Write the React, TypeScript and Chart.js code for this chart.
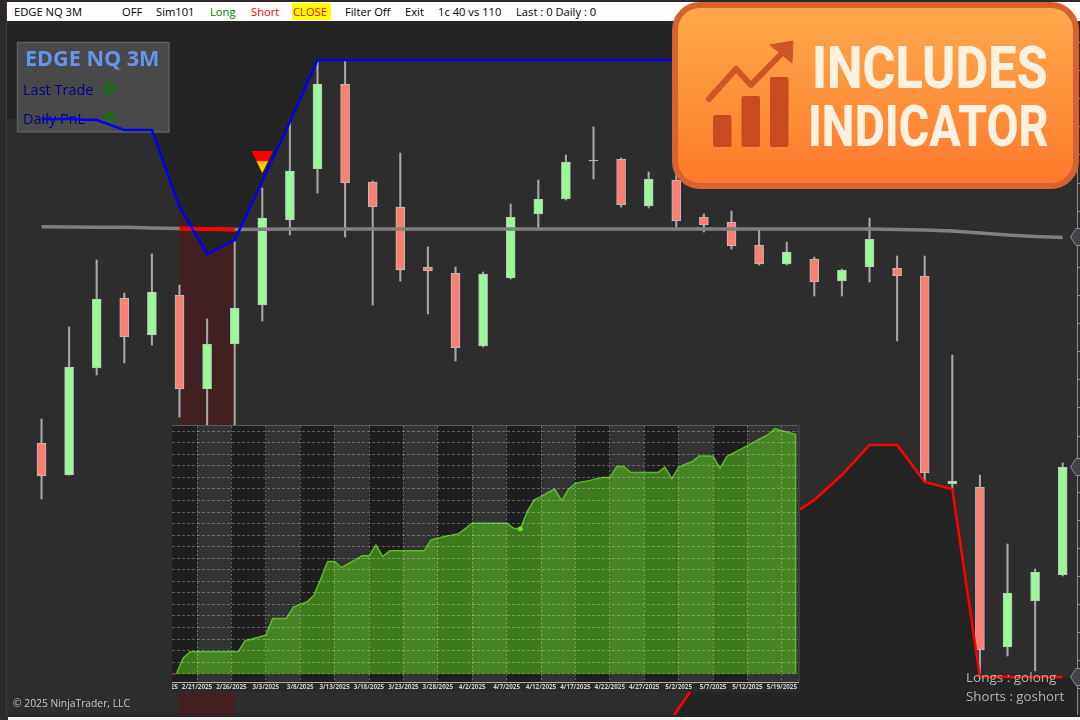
import React, { useEffect, useRef } from "react";
import { Chart, registerables } from "chart.js";

Chart.register(...registerables);

/* ---------- main chart data (candle index / price units) ---------- */
const OPEN = [277,245,352,422,385,425,331,376,415,500,551,636,538,513,453,447,374,442,506,521,559,561,514,540,503,498,475,456,461,439,453,452,444,236,233,73,119,145];
const CLOSE = [244,353,421,383,428,331,376,412,502,549,636,537,513,450,449,372,446,503,521,558,560,515,541,499,495,474,456,468,438,450,481,444,247,239,70,127,148,253];
const HIGH = [301,393,460,427,466,435,401,481,532,598,660,660,539,567,473,453,448,516,540,565,593,562,548,570,506,509,491,478,463,451,502,464,464,365,245,176,151,257];
const LOW = [221,245,345,357,375,303,290,290,399,485,527,483,415,439,406,359,373,441,491,520,541,513,512,492,488,471,455,455,424,424,438,379,238,231,42,64,49,144];
const AVERAGE = [493.3,493,492.8,492.7,492,491.5,491,490.5,490.8,491,491,491,491,491,491,491,491,491,491,491,491,491,491,491,491,491,491,491,491,491,491,490.5,490,489,487,485,483.5,482.5];
const UPPER_BAND = [601,601,600,590,590,513,466,480,539,598,660,660,660,660,660,660,660,660,660,660,660,660,660,660,660,660,660,660,660,660,660,660,660,660,660,660,660,660];
const LOWER_BAND_START = 22;
const LOWER_BAND = [-40,8,48,108,160,202,220,245,275,275,238,231,43,43,43,43];
const SIGNAL_ZONE = { center: 6, bottom: 0, top: 700 };
const SIGNAL_LINE = [{ x: 5, y: 491.5 }, { x: 6, y: 491 }, { x: 7, y: 490.5 }];
const SHORT_MARKER = { index: 8, base: 569, split: 558.7, apex: 547 };
const PRICE_MARKERS = [483, 253, 43];
const PRICE_TICK_START = 3;
const PRICE_TICK_STEP = 28.1;

/* ---------- equity inset data ---------- */
const EQUITY = [0,1.36,1.9,1.9,1.9,1.9,1.9,1.9,1.9,1.9,2.85,3,3.17,3.34,4.79,4.79,4.79,5.77,6,6.23,6.78,8.22,9.72,9.72,9.2,9.52,9.86,10.21,10.21,11.13,10.15,10.64,10.64,10.64,10.64,10.64,10.64,11.59,11.74,11.88,12,12.11,12.57,13.03,13.03,13.03,13.03,13.03,13.03,12.6,12.54,14.04,15.05,15.34,15.69,15.97,14.99,15.97,16.49,16.61,16.72,16.87,16.98,16.98,17.94,17.94,17.45,17.42,17.42,17.42,17.42,17.88,16.9,17.88,18.14,18.37,18.86,18.86,18.83,17.79,18.8,19.12,19.43,19.75,20.07,20.39,20.7,21.22,21.05,20.88,20.7];
const DATE_TICKS = [-2,3,8,13,18,23,28,33,38,43,48,53,58,63,68,73,78,83,88];
const DATE_LABELS = ["2/16/2025","2/21/2025","2/26/2025","3/3/2025","3/8/2025","3/13/2025","3/18/2025","3/23/2025","3/28/2025","4/2/2025","4/7/2025","4/12/2025","4/17/2025","4/22/2025","4/27/2025","5/2/2025","5/7/2025","5/12/2025","5/19/2025"];
const EQUITY_DOT = 50;
const EQUITY_LEVELS = [0,1,2,3,4,5,6,7,8,9,10,11,12,13,14,15,16,17,18,19,20,21];

/* ---------- texts ---------- */
const TOOLBAR = [
  { text: "EDGE NQ 3M", left: 14, color: "#000" },
  { text: "OFF", left: 122, color: "#000" },
  { text: "Sim101", left: 156, color: "#000" },
  { text: "Long", left: 210, color: "#008000" },
  { text: "Short", left: 251, color: "#ff0000" },
  { text: "CLOSE", left: 293, color: "#ff0000" },
  { text: "Filter Off", left: 345, color: "#000" },
  { text: "Exit", left: 405, color: "#000" },
  { text: "1c 40 vs 110", left: 438, color: "#000" },
  { text: "Last : 0 Daily : 0", left: 516, color: "#000" },
];

const GREEN = "#98fb98";
const RED = "#fa8072";
const DARK = "#242424";
const LIGHT = "#2d2d2d";
const X_MIN = -1.5036;
const X_MAX = 37.518;

const linePts = (arr: number[], start = 0) => arr.map((y, i) => ({ x: i + start, y }));

function useChart(ref: React.RefObject<HTMLCanvasElement | null>, make: (c: HTMLCanvasElement) => Chart) {
  useEffect(() => {
    if (!ref.current) return;
    const chart = make(ref.current);
    return () => chart.destroy();
  }, []);
}

const FILL_DATASET_INDEX = 1;

const mainPlugin = {
  id: "mainDecor",
  beforeDraw(chart: any) {
    const { ctx, width, height } = chart;
    ctx.save();
    ctx.fillStyle = LIGHT;
    ctx.fillRect(0, 0, width, height);
    ctx.restore();
  },
  afterDatasetDraw(chart: any, args: any) {
    if (args.index !== FILL_DATASET_INDEX + 1) return;
    // information panel sits over the shaded bands, under the band lines
    const ctx = chart.ctx;
    ctx.save();
    ctx.fillStyle = "rgba(110,110,110,0.5)";
    ctx.fillRect(17, 42, 152, 90);
    ctx.strokeStyle = "#5e5e5e";
    ctx.lineWidth = 1.5;
    ctx.strokeRect(17.5, 42.5, 151.5, 89.5);
    ctx.textBaseline = "alphabetic";
    ctx.fillStyle = "#6495ed";
    ctx.font = "bold 21.6px 'Open Sans'";
    ctx.fillText("EDGE NQ 3M", 25, 66);
    ctx.fillStyle = "#00008b";
    ctx.font = "14.5px 'Open Sans'";
    ctx.fillText("Last Trade", 23, 95);
    ctx.fillText("Daily PnL", 23, 124);
    ctx.fillStyle = "#008000";
    ctx.font = "bold 18px 'Open Sans'";
    ctx.fillText("0", 104, 95);
    ctx.fillText("0", 104, 125);
    ctx.restore();
  },
  afterDatasetsDraw(chart: any) {
    const { ctx, scales } = chart;
    const x = scales.x;
    const y = scales.y;
    const cx = x.getPixelForValue(SHORT_MARKER.index);
    const base = y.getPixelForValue(SHORT_MARKER.base);
    const split = y.getPixelForValue(SHORT_MARKER.split);
    const apex = y.getPixelForValue(SHORT_MARKER.apex);
    const halfAt = (py: number) => 10.8 * (apex - py) / (apex - base);
    ctx.save();
    ctx.fillStyle = "#ff0000";
    ctx.beginPath();
    ctx.moveTo(cx - 10.8, base);
    ctx.lineTo(cx + 10.8, base);
    ctx.lineTo(cx, apex);
    ctx.closePath();
    ctx.fill();
    ctx.fillStyle = "#ffcc00";
    ctx.beginPath();
    ctx.moveTo(cx - halfAt(split), split);
    ctx.lineTo(cx + halfAt(split), split);
    ctx.lineTo(cx, apex);
    ctx.closePath();
    ctx.fill();
    // price markers on the right axis
    const left = chart.chartArea.right;
    PRICE_MARKERS.forEach((p) => {
      const py = y.getPixelForValue(p);
      ctx.beginPath();
      ctx.moveTo(left - 6.5, py);
      ctx.lineTo(left - 1, py - 8.5);
      ctx.lineTo(left + 5, py - 8.5);
      ctx.lineTo(left + 5, py + 8.5);
      ctx.lineTo(left - 1, py + 8.5);
      ctx.closePath();
      ctx.fillStyle = "#434348";
      ctx.fill();
      ctx.strokeStyle = "#8c8c8c";
      ctx.lineWidth = 1;
      ctx.stroke();
    });
    ctx.restore();
  },
};

const insetPlugin = {
  id: "insetDecor",
  beforeDraw(chart: any) {
    const { ctx, width, height, chartArea, scales } = chart;
    ctx.save();
    ctx.fillStyle = "#2a2a2a";
    ctx.fillRect(0, 0, width, height);
    const ticks = DATE_TICKS;
    for (let i = 0; i < ticks.length - 1; i++) {
      const a = Math.max(scales.x.getPixelForValue(ticks[i]), chartArea.left);
      const last = i === ticks.length - 2;
      const b = last ? chartArea.right : scales.x.getPixelForValue(ticks[i + 1]);
      ctx.fillStyle = i % 2 === 0 ? "#1e1e1e" : "#333333";
      ctx.fillRect(a, chartArea.top, b - a, chartArea.bottom - chartArea.top);
    }
    ctx.fillStyle = "#5a5a5a";
    ctx.fillRect(0, 0, width, 1);
    ctx.fillStyle = "#3c3c3c";
    ctx.fillRect(chartArea.right, 0, 2, chartArea.bottom);
    ctx.restore();
  },
};

export default function App() {
  const mainRef = useRef<HTMLCanvasElement>(null);
  const insetRef = useRef<HTMLCanvasElement>(null);

  useChart(mainRef, (c) => {
    const wicks = HIGH.map((h, i) => ({ x: i, y: [LOW[i], h] }));
    const bodies = OPEN.map((o, i) => ({ x: i, y: [o, CLOSE[i]] }));
    const colors = OPEN.map((o, i) => (CLOSE[i] > o ? GREEN : RED));
    return new Chart(c, {
      type: "bar",
      data: {
        datasets: [
          {
            type: "bar",
            label: "Signal zone",
            data: [{ x: SIGNAL_ZONE.center, y: [SIGNAL_ZONE.bottom, SIGNAL_ZONE.top] }],
            backgroundColor: "#402020",
            barThickness: 55.5,
            grouped: false,
            order: 10,
          },
          {
            type: "line",
            label: "Upper shade",
            data: [{ x: X_MIN - 1, y: UPPER_BAND[0] }, ...linePts(UPPER_BAND), { x: X_MAX + 1, y: UPPER_BAND[UPPER_BAND.length - 1] }],
            borderWidth: 0,
            borderColor: "transparent",
            backgroundColor: DARK,
            pointRadius: 0,
            fill: "end",
            order: 9,
          },
          {
            type: "line",
            label: "Lower shade",
            data: [...linePts(LOWER_BAND, LOWER_BAND_START), { x: X_MAX + 1, y: LOWER_BAND[LOWER_BAND.length - 1] }],
            borderWidth: 0,
            borderColor: "transparent",
            backgroundColor: DARK,
            pointRadius: 0,
            fill: "start",
            order: 8,
          },
          {
            type: "bar",
            label: "Wicks",
            data: wicks,
            backgroundColor: "#a8a8a8",
            barThickness: 1.4,
            grouped: false,
            order: 6,
          },
          {
            type: "bar",
            label: "Bodies",
            data: bodies,
            backgroundColor: colors,
            borderColor: "#bcbcbc",
            borderWidth: 1,
            borderSkipped: false,
            barThickness: 9,
            grouped: false,
            order: 5,
          },
          {
            type: "line",
            label: "Average",
            data: linePts(AVERAGE),
            borderColor: "#808080",
            borderWidth: 3.5,
            pointRadius: 0,
            order: 4,
          },
          {
            type: "line",
            label: "Signal",
            data: SIGNAL_LINE,
            borderColor: "#ff0000",
            borderWidth: 4,
            pointRadius: 0,
            order: 3,
          },
          {
            type: "line",
            label: "Upper band",
            data: linePts(UPPER_BAND),
            borderColor: "#0000f0",
            borderWidth: 2.5,
            pointRadius: 0,
            order: 2,
          },
          {
            type: "line",
            label: "Lower band",
            data: linePts(LOWER_BAND, LOWER_BAND_START),
            borderColor: "#ff0000",
            borderWidth: 2.5,
            pointRadius: 0,
            order: 1,
          },
        ] as any,
      },
      options: {
        animation: false,
        responsive: false,
        devicePixelRatio: 1,
        layout: { padding: 0, autoPadding: false },
        plugins: { legend: { display: false }, title: { display: false }, tooltip: { enabled: false } },
        scales: {
          x: { type: "linear", min: X_MIN, max: X_MAX, display: false, offset: false },
          y: {
            type: "linear",
            position: "right",
            min: 0,
            max: 720,
            afterFit(s: any) { s.width = 3; },
            afterBuildTicks(s: any) {
              const t = [];
              for (let v = PRICE_TICK_START; v < 720; v += PRICE_TICK_STEP) t.push({ value: v });
              s.ticks = t;
            },
            ticks: { display: false },
            grid: { drawOnChartArea: false, drawTicks: true, tickLength: 3, tickColor: "#8a8a8a" },
            border: { color: "#8a8a8a", width: 1 },
          },
        },
      } as any,
      plugins: [mainPlugin],
    });
  });

  useChart(insetRef, (c) => {
    return new Chart(c, {
      type: "line",
      data: {
        datasets: [
          {
            label: "Equity",
            data: [...linePts(EQUITY), { x: EQUITY.length - 1, y: 0 }],
            borderColor: "#5cb82a",
            borderWidth: 1.5,
            backgroundColor: "rgba(92,214,26,0.5)",
            pointRadius: 0,
            fill: { value: 0 },
            order: 3,
          },
          {
            label: "Base",
            data: [{ x: 0, y: 0 }, { x: EQUITY.length - 1, y: 0 }],
            borderColor: "#2e6a12",
            borderWidth: 1,
            pointRadius: 0,
            order: 2,
          },
          {
            label: "Stub",
            data: [{ x: -0.6, y: 0 }, { x: 0, y: -0.1 }],
            borderColor: "#c02010",
            borderWidth: 1,
            pointRadius: 0,
            order: 2,
          },
          {
            label: "Last trade",
            data: [{ x: EQUITY_DOT, y: EQUITY[EQUITY_DOT] }],
            borderColor: "#66dd33",
            backgroundColor: "#66dd33",
            pointRadius: 2.2,
            showLine: false,
            order: 1,
          },
        ] as any,
      },
      options: {
        animation: false,
        responsive: false,
        devicePixelRatio: 1,
        layout: { padding: { top: 1, right: 2, left: 0, bottom: 0 }, autoPadding: false },
        plugins: { legend: { display: false }, title: { display: false }, tooltip: { enabled: false } },
        scales: {
          x: {
            type: "linear",
            min: -0.634,
            max: 90.35,
            afterFit(s: any) { s.height = 10; s.paddingLeft = 0; s.paddingRight = 0; },
            afterBuildTicks(s: any) { s.ticks = DATE_TICKS.map((value) => ({ value })); },
            ticks: {
              autoSkip: false,
              maxRotation: 0,
              padding: 0,
              color: "#d0d0d0",
              font: { family: "'Open Sans'", size: 6.3, weight: "bold" },
              callback(_v: any, i: number) { return DATE_LABELS[i]; },
            },
            grid: { z: 1, color: "rgba(255,255,255,0.28)", drawTicks: true, tickLength: 1 },
            border: { color: "#b0b0b0", width: 1, dash: [2, 2], z: 1 },
          },
          y: {
            type: "linear",
            min: -0.72,
            max: 21.45,
            afterFit(s: any) { s.width = 0; s.paddingTop = 0; s.paddingBottom = 0; },
            afterBuildTicks(s: any) { s.ticks = EQUITY_LEVELS.map((value) => ({ value })); },
            ticks: { display: false },
            grid: { z: 1, color: "rgba(255,255,255,0.28)", drawTicks: false },
            border: { display: false, dash: [3, 2] },
          },
        },
      } as any,
      plugins: [insetPlugin],
    });
  });

  const abs = (s: React.CSSProperties): React.CSSProperties => ({ position: "absolute", ...s });

  return (
    <div style={{ position: "fixed", left: 0, top: 0, width: 1080, height: 720, overflow: "hidden", background: "#fff" }}>
      <canvas ref={mainRef} width={1080} height={720} style={abs({ left: 0, top: 0, width: 1080, height: 720 })} />
      <canvas ref={insetRef} width={628} height={267} style={abs({ left: 172, top: 425, width: 628, height: 267 })} />

      {/* frame */}
      <div style={abs({ left: 0, top: 0, width: 1080, height: 2, background: "#2a2a2a" })} />
      <div style={abs({ left: 0, top: 0, width: 7, height: 717, background: "#2b2b2b", borderRight: "1px solid #3c3c3c", boxSizing: "border-box" })} />
      <div style={abs({ left: 8, top: 717, width: 1072, height: 3, background: "#f4f4f4" })} />
      <div style={abs({ left: 8, top: 715, width: 1072, height: 2, background: "#262626" })} />

      {/* toolbar */}
      <div style={abs({ left: 7, top: 2, width: 1073, height: 19, background: "#fffdfd" })} />
      <div style={abs({ left: 292, top: 3, width: 39, height: 17, background: "#ffff00" })} />
      {TOOLBAR.map((t) => (
        <span key={t.text} style={abs({ left: t.left, top: 4, lineHeight: "15px", fontFamily: "'Open Sans'", fontSize: 11.2, color: t.color, whiteSpace: "nowrap" })}>
          {t.text}
        </span>
      ))}

      {/* captions */}
      <span style={abs({ left: 13, top: 696, lineHeight: "15px", fontFamily: "'Open Sans'", fontSize: 10.3, color: "#c8c8c8", whiteSpace: "nowrap" })}>© 2025 NinjaTrader, LLC</span>
      <span style={abs({ left: 966, top: 669, lineHeight: "17px", fontFamily: "'Open Sans'", fontSize: 13.5, color: "#b4b4b4", whiteSpace: "nowrap" })}>Longs : golong</span>
      <span style={abs({ left: 966, top: 688, lineHeight: "17px", fontFamily: "'Open Sans'", fontSize: 13.3, color: "#b4b4b4", whiteSpace: "nowrap" })}>Shorts : goshort</span>

      {/* badge */}
      <div style={abs({ left: 672, top: 2, width: 407, height: 187, boxSizing: "border-box", borderRadius: 28, border: "6px solid #d5622f", background: "linear-gradient(180deg,#ffa94c 0%,#ff7a2c 100%)" })} />
      <svg width={1080} height={200} style={abs({ left: 0, top: 0 })}>
        <g fill="#c94a20">
          <rect x={713} y={115} width={18.5} height={32} rx={2} />
          <rect x={741.5} y={96} width={18.5} height={51} rx={2} />
          <rect x={770} y={77} width={18.5} height={70} rx={2} />
        </g>
        <polyline points="709,99 736,69 751,85 783,52" fill="none" stroke="#d05428" strokeWidth={6} strokeLinecap="round" strokeLinejoin="round" />
        <polygon points="770,45 793,41 792,63" fill="#d05428" stroke="#d05428" strokeWidth={1} strokeLinejoin="round" />
      </svg>
      <span style={abs({ left: 812, top: 33, lineHeight: "70px", fontFamily: "Roboto", fontWeight: 800, fontSize: 60, color: "#fff1df", whiteSpace: "nowrap", transformOrigin: "left top", transform: "scaleX(0.84)" })}>INCLUDES</span>
      <span style={abs({ left: 808, top: 91, lineHeight: "70px", fontFamily: "Roboto", fontWeight: 800, fontSize: 58, color: "#fff1df", whiteSpace: "nowrap", transformOrigin: "left top", transform: "scaleX(0.803)" })}>INDICATOR</span>
    </div>
  );
}
